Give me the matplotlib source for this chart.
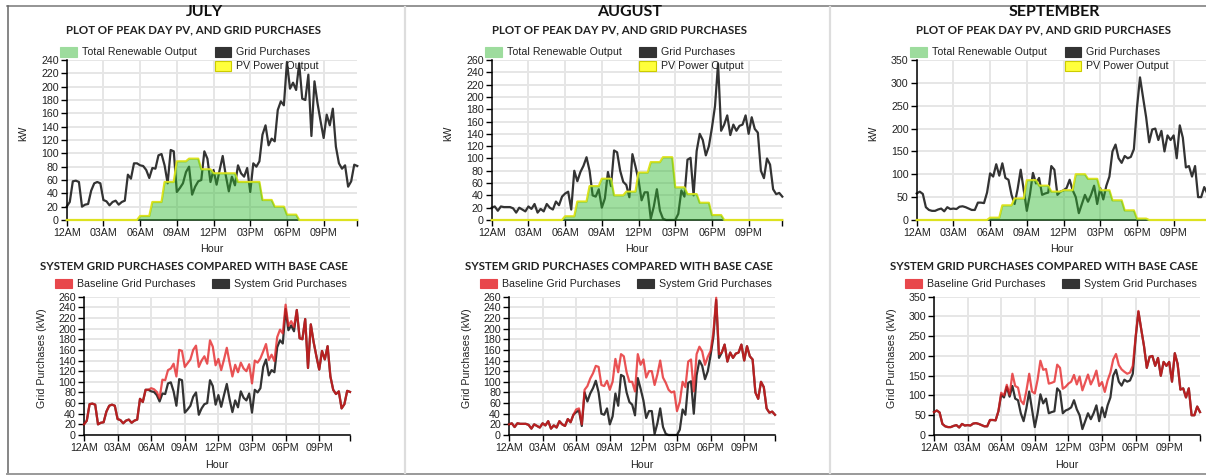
import numpy as np
import matplotlib.pyplot as plt
from matplotlib.lines import Line2D
from matplotlib.patches import Rectangle

plt.rcParams['font.family'] = ['Liberation Sans', 'DejaVu Sans']

W, H = 1206, 475

months = ["JULY", "AUGUST", "SEPTEMBER"]
hour_ticks = [0, 3, 6, 9, 12, 15, 18, 21]
hour_labels = ["12AM", "03AM", "06AM", "09AM", "12PM", "03PM", "06PM", "09PM"]
hours = np.arange(96) * 0.25  # 15 min steps, 12AM .. 11:45PM

# grid purchases (kW), 15 min
july_grid = [20, 27, 58, 59, 57, 20, 23, 24, 44, 55, 57, 55, 30, 28, 22, 27, 29, 23, 27, 29, 68, 62, 85, 85,
             82, 81, 75, 63, 78, 77, 97, 99, 82, 55, 105, 103, 42, 48, 55, 72, 80, 38, 50, 58, 60, 103, 92, 57,
             75, 53, 75, 96, 67, 43, 65, 52, 82, 70, 65, 78, 42, 85, 80, 88, 128, 142, 112, 122, 118, 165, 178, 172,
             237, 197, 206, 195, 235, 182, 180, 218, 126, 208, 175, 148, 123, 158, 142, 167, 110, 85, 77, 82, 50, 58, 83, 81]
aug_grid = [20, 22, 15, 22, 21, 21, 21, 19, 12, 20, 17, 14, 22, 18, 26, 12, 18, 14, 26, 20, 17, 30, 24, 38,
            43, 46, 17, 80, 63, 78, 88, 102, 80, 40, 38, 50, 20, 35, 78, 55, 113, 110, 80, 62, 57, 37, 107, 87,
            65, 32, 45, 45, 2, 22, 50, 15, 2, 0, 0, 0, 0, 10, 48, 38, 98, 101, 40, 112, 140, 130, 105, 120,
            150, 185, 254, 145, 155, 170, 138, 155, 145, 153, 155, 170, 140, 167, 148, 142, 80, 68, 100, 90, 50, 42, 44, 38]
sep_grid = [58, 62, 57, 28, 22, 20, 20, 23, 25, 19, 28, 24, 25, 24, 29, 30, 28, 25, 22, 22, 38, 38, 37, 60,
            102, 95, 122, 97, 124, 92, 88, 55, 35, 68, 110, 65, 20, 55, 103, 80, 92, 55, 58, 60, 118, 110, 55, 62,
            65, 70, 88, 65, 50, 15, 35, 55, 40, 55, 75, 35, 70, 45, 75, 95, 150, 165, 135, 125, 140, 135, 138, 155,
            245, 312, 268, 225, 170, 198, 200, 175, 195, 150, 185, 175, 185, 135, 207, 180, 115, 118, 95, 118, 50, 50, 72, 58]

# baseline grid purchases (kW), 15 min
july_base = [20, 27, 58, 59, 57, 20, 23, 24, 44, 55, 57, 55, 30, 28, 22, 27, 29, 23, 27, 29, 68, 62, 85, 85,
             88, 86, 81, 69, 104, 103, 122, 125, 134, 110, 160, 158, 128, 135, 142, 160, 168, 128, 140, 148, 134, 178, 166, 131,
             143, 122, 142, 164, 136, 110, 132, 118, 136, 125, 120, 133, 97, 140, 136, 144, 157, 171, 141, 151, 139, 184, 198, 191,
             245, 205, 214, 203, 235, 182, 180, 218, 126, 208, 175, 148, 123, 158, 142, 167, 110, 85, 77, 82, 50, 58, 83, 81]
aug_base = [20, 22, 15, 22, 21, 21, 21, 19, 12, 20, 17, 14, 22, 18, 26, 12, 18, 14, 26, 20, 17, 30, 24, 38,
            48, 50, 20, 85, 92, 106, 116, 130, 128, 94, 92, 102, 85, 100, 143, 118, 152, 148, 118, 100, 100, 82, 152, 132,
            142, 108, 120, 120, 94, 114, 140, 108, 98, 85, 80, 82, 45, 62, 100, 90, 138, 142, 82, 152, 166, 157, 132, 147,
            158, 193, 258, 152, 155, 170, 138, 155, 145, 153, 155, 170, 140, 167, 148, 142, 80, 68, 100, 90, 50, 42, 44, 38]
sep_base = [58, 62, 57, 28, 22, 20, 20, 23, 25, 19, 28, 24, 25, 24, 29, 30, 28, 25, 22, 22, 38, 38, 37, 60,
            107, 100, 127, 102, 155, 124, 120, 87, 78, 112, 155, 110, 105, 140, 188, 165, 167, 130, 132, 135, 178, 170, 117, 122,
            130, 135, 152, 128, 148, 113, 133, 153, 128, 143, 163, 124, 134, 109, 138, 158, 191, 205, 177, 166, 160, 155, 158, 175,
            248, 314, 268, 225, 170, 198, 200, 175, 195, 150, 185, 175, 185, 135, 207, 180, 115, 118, 95, 118, 50, 50, 72, 58]

# PV output (kW), hourly
july_pv = [0, 0, 0, 0, 0, 0, 6, 27, 57, 88, 92, 76, 70, 70, 57, 57, 30, 20, 8, 0, 0, 0, 0, 0]
aug_pv = [0, 0, 0, 0, 0, 0, 6, 30, 55, 67, 40, 46, 77, 94, 102, 53, 42, 28, 8, 0, 0, 0, 0, 0]
sep_pv = [0, 0, 0, 0, 0, 0, 5, 32, 47, 87, 75, 62, 65, 100, 90, 65, 43, 21, 3, 0, 0, 0, 0, 0]

grids = [july_grid, aug_grid, sep_grid]
bases = [july_base, aug_base, sep_base]
pvs = [july_pv, aug_pv, sep_pv]
top_ylim = [(240, 20), (260, 20), (350, 50)]
bot_ylim = [(260, 20), (260, 20), (350, 50)]

GREEN = "#2eb82e"
YELLOW = "#dde21f"
RED = "#e41a1c"
DARK = "#333333"


def fx(x):
    return x / W


def fy(y):
    return 1 - y / H


def style_axis(ax, ymax, ystep):
    ax.set_xlim(0, 23.75)
    ax.set_ylim(0, ymax)
    ax.set_xticks(hour_ticks)
    ax.set_xticklabels(hour_labels)
    ax.set_xticks([23.75], minor=True)
    ax.set_yticks(np.arange(0, ymax + 1, ystep))
    ax.grid(True, color="#e6e6e6", lw=1.4)
    ax.set_axisbelow(True)
    for s in ["top", "right"]:
        ax.spines[s].set_visible(False)
    for s in ["left", "bottom"]:
        ax.spines[s].set_linewidth(1.1)
    ax.tick_params(which="both", length=4.3, width=1, labelsize=7.7, pad=1.5, labelcolor="#222")


def rect(x, y, w, h, fc, ec=None):
    fig.add_artist(Rectangle((fx(x), fy(y + h)), w / W, h / H, transform=fig.transFigure,
                             facecolor=fc, edgecolor=ec if ec else fc, lw=0.8))


fig = plt.figure(figsize=(W / 100, H / 100), dpi=100)

for k in range(3):
    off = 425 * k

    # top chart: PV and grid purchases
    ax = fig.add_axes([fx(66.7 + off), fy(220), 290.6 / W, 160 / H])
    pv = np.repeat(pvs[k], 4)
    ax.plot(hours, grids[k], color=DARK, lw=1.6, clip_on=False, zorder=2)
    ax.plot(hours, pv, color=YELLOW, lw=1.6, clip_on=False, zorder=3)
    ax.fill_between(hours, 0, pv, color=GREEN, alpha=0.45, lw=0, zorder=4)
    style_axis(ax, *top_ylim[k])

    # bottom chart: baseline vs system
    ax2 = fig.add_axes([fx(84 + off), fy(435), 266 / W, 138.3 / H])
    ax2.plot(hours, grids[k], color=DARK, lw=1.6, clip_on=False, zorder=2)
    ax2.plot(hours, bases[k], color=RED, lw=1.6, alpha=0.75, clip_on=False, zorder=3)
    style_axis(ax2, *bot_ylim[k])

    # titles
    fig.text(fx(204.5 + off), fy(12), months[k], ha="center", va="center",
             fontsize=11.5, family="Lato", weight="bold", color="#111")
    fig.text(fx(194 + off), fy(29.5), "PLOT OF PEAK DAY PV, AND GRID PURCHASES", ha="center", va="center",
             fontsize=8.3, family="Lato", weight="bold", color="#222")
    fig.text(fx(193.5 + off), fy(266), "SYSTEM GRID PURCHASES COMPARED WITH BASE CASE", ha="center", va="center",
             fontsize=8.3, family="Lato", weight="bold", color="#222")

    # legends
    rect(60 + off, 46.7, 17, 10, "#9ddc9d")
    fig.text(fx(82.3 + off), fy(51.7), "Total Renewable Output", va="center", fontsize=7.7, color="#222")
    rect(214.5 + off, 46.7, 16.5, 10, DARK)
    fig.text(fx(236 + off), fy(51.7), "Grid Purchases", va="center", fontsize=7.7, color="#222")
    rect(214.5 + off, 61, 16.5, 10, "#ffff3b", "#cccc00")
    fig.text(fx(236 + off), fy(66), "PV Power Output", va="center", fontsize=7.7, color="#222")

    rect(55 + off, 279.3, 16.7, 9, "#e8474c")
    fig.text(fx(77 + off), fy(283.8), "Baseline Grid Purchases", va="center", fontsize=7.7, color="#222")
    rect(212.3 + off, 279.3, 16.7, 9, DARK)
    fig.text(fx(234 + off), fy(283.8), "System Grid Purchases", va="center", fontsize=7.7, color="#222")

    # axis labels
    fig.text(fx(23 + off), fy(133), "kW", rotation=90, ha="center", va="center", fontsize=7.7, color="#222")
    fig.text(fx(212 + off), fy(249), "Hour", ha="center", va="center", fontsize=7.7, color="#222")
    fig.text(fx(41.7 + off), fy(358), "Grid Purchases (kW)", rotation=90, ha="center", va="center",
             fontsize=7.7, color="#222")
    fig.text(fx(217 + off), fy(464.5), "Hour", ha="center", va="center", fontsize=7.7, color="#222")

# panel frame
fig.add_artist(Line2D([fx(7), 1], [fy(5.5), fy(5.5)], color="#777777", lw=1.1, transform=fig.transFigure))
fig.add_artist(Line2D([fx(7.5), fx(7.5)], [fy(5.5), fy(473.5)], color="#666666", lw=1.1, transform=fig.transFigure))
fig.add_artist(Line2D([fx(7), 1], [fy(473.5), fy(473.5)], color="#999999", lw=1.4, transform=fig.transFigure))
for xs in [405, 830]:
    fig.add_artist(Line2D([fx(xs), fx(xs)], [fy(6.5), fy(472.5)], color="#dddddd", lw=1.6,
                          transform=fig.transFigure))

fig.savefig("out.png", dpi=100)
